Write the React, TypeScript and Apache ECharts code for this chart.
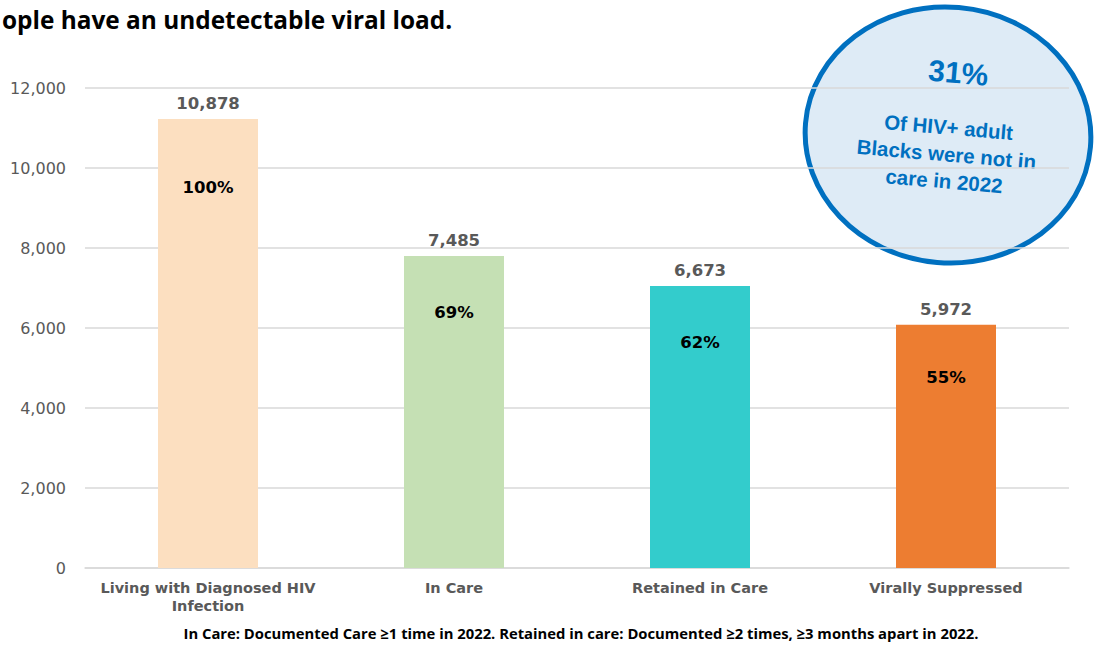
import React, { useEffect, useRef } from "react";
import * as echarts from "echarts";

const categories = ["Living with Diagnosed HIV\nInfection", "In Care", "Retained in Care", "Virally Suppressed"];
const barHeights = [11225, 7800, 7050, 6080];
const valueLabels = ["10,878", "7,485", "6,673", "5,972"];
const percentLabels = ["100%", "69%", "62%", "55%"];
const barColors = ["#FCDFC0", "#C5E0B4", "#33CCCC", "#ED7D31"];
const yTicks = { min: 0, max: 12000, interval: 2000 };

const titleText = "ople have an undetectable viral load.";
const footnote = "In Care: Documented Care ≥1 time in 2022. Retained in care: Documented ≥2 times, ≥3 months apart in 2022.";
const calloutLines = ["31%", "Of HIV+ adult", "Blacks were not in", "care in 2022"];

export default function App() {
  const ref = useRef<HTMLDivElement>(null);
  useEffect(() => {
    if (!ref.current) return;
    const chart = echarts.init(ref.current, undefined, { renderer: "svg" });
    const option = {
      animation: false,
      backgroundColor: "#ffffff",
      grid: { left: 85, right: 25, top: 88, bottom: 78 },
      xAxis: {
        type: "category",
        data: categories,
        axisLine: { lineStyle: { color: "#D9D9D9", width: 1.5 } },
        axisTick: { show: false },
        axisLabel: {
          color: "#595959",
          fontFamily: "DejaVu Sans",
          fontWeight: "bold",
          fontSize: 14.5,
          lineHeight: 18,
          margin: 11,
          interval: 0,
        },
      },
      yAxis: {
        type: "value",
        min: yTicks.min,
        max: yTicks.max,
        interval: yTicks.interval,
        axisLine: { show: false },
        axisTick: { show: false },
        splitLine: { lineStyle: { color: "#D9D9D9", width: 1.5 } },
        axisLabel: {
          color: "#595959",
          fontFamily: "DejaVu Sans",
          fontSize: 16,
          margin: 19,
          formatter: (v: number) => v.toLocaleString("en-US"),
        },
      },
      series: [
        {
          type: "bar",
          barWidth: 100,
          data: barHeights.map((v, i) => ({ value: v, itemStyle: { color: barColors[i] } })),
          label: {
            show: true,
            position: "top",
            distance: 7,
            color: "#595959",
            fontFamily: "DejaVu Sans",
            fontWeight: "bold",
            fontSize: 16.5,
            formatter: (p: any) => valueLabels[p.dataIndex],
          },
        },
        {
          type: "bar",
          barWidth: 100,
          barGap: "-100%",
          silent: true,
          data: barHeights.map((v, i) => ({
            value: v,
            label: i === 0 ? { distance: 60 } : i === 3 ? { distance: 44 } : {},
          })),
          itemStyle: { color: "rgba(0,0,0,0)" },
          label: {
            show: true,
            position: "insideTop",
            distance: 48,
            color: "#000000",
            fontFamily: "DejaVu Sans",
            fontWeight: "bold",
            fontSize: 16.5,
            formatter: (p: any) => percentLabels[p.dataIndex],
          },
        },
      ],
      graphic: [
        {
          type: "text",
          left: 2,
          top: 7,
          style: { text: titleText, fill: "#000", font: "bold 24.4px 'Open Sans'" },
        },
        {
          type: "text",
          x: 581,
          y: 633,
          style: {
            text: footnote,
            fill: "#000",
            font: "bold 14.8px 'Open Sans'",
            align: "center",
            verticalAlign: "middle",
          },
        },
        {
          type: "group",
          x: 948,
          y: 135,
          rotation: -0.085,
          children: [
            {
              type: "ellipse",
              shape: { cx: 0, cy: 0, rx: 143, ry: 128 },
              style: { fill: "rgba(189,215,238,0.5)", stroke: "#0070C0", lineWidth: 5 },
            },
            {
              type: "text",
              x: 5,
              y: -63,
              style: {
                text: calloutLines[0],
                fill: "#0070C0",
                font: "bold 30px 'Liberation Sans'",
                align: "center",
                verticalAlign: "middle",
              },
            },
            {
              type: "text",
              x: 0,
              y: 19,
              style: {
                text: calloutLines.slice(1).join("\n"),
                fill: "#0070C0",
                font: "bold 20.5px 'Liberation Sans'",
                lineHeight: 27,
                align: "center",
                verticalAlign: "middle",
              },
            },
          ],
        },
      ],
    };
    chart.setOption(option as any);
    return () => chart.dispose();
  }, []);
  return <div ref={ref} style={{ position: "fixed", left: 0, top: 0, width: 1094, height: 646 }} />;
}
